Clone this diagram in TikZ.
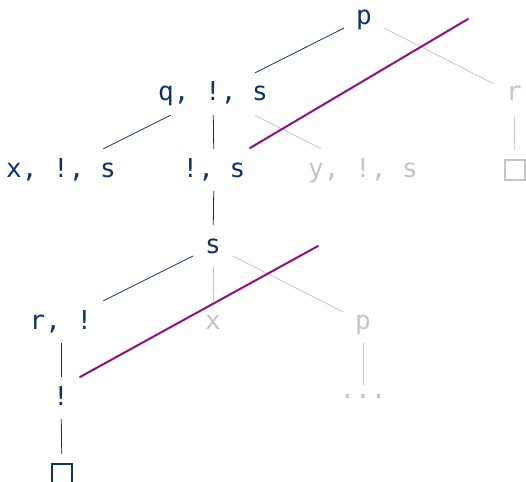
\documentclass[tikz,border=0pt]{standalone}
\usepackage{fontspec}
\newfontfamily\treefont{DejaVu Sans Mono}
\definecolor{navy}{RGB}{12,52,102}
\definecolor{fade}{RGB}{196,196,196}
\definecolor{cutc}{RGB}{150,12,130}
\begin{document}
\begin{tikzpicture}[x=1pt, y=-1pt,
    goal/.style={inner xsep=12pt, inner ysep=0pt, minimum height=42pt,
                 text height=17pt, text depth=3pt,
                 font=\fontsize{26}{30}\treefont, text=navy},
    dead/.style={goal, text=fade},
    leaf/.style={draw=navy, line width=1.5pt, minimum size=20pt,
                 inner sep=0pt, outer sep=10pt},
    deadleaf/.style={leaf, draw=fade},
    arc/.style={navy, line width=0.8pt},
    gone/.style={fade, line width=0.8pt},
    cut/.style={cutc, line width=2pt, line cap=round}
]
\useasboundingbox (0,0) rectangle (526,481);
\node[goal] (p) at (364, 18) {p};
\node[goal] (qns) at (213, 94) {q, !, s};
\node[dead] (r) at (514, 94) {r};
\node[goal] (xns) at (61, 170) {x, !, s};
\node[goal] (ns) at (214, 170) {!, s};
\node[dead] (yns) at (363, 170) {y, !, s};
\node[deadleaf] (e1) at (515, 170) {};
\node[goal] (s) at (213, 246) {s};
\node[goal] (rn) at (61, 322) {r, !};
\node[dead] (x) at (213, 322) {x};
\node[dead] (p2) at (363, 322) {p};
\node[goal] (n) at (61, 398) {!};
\node[dead, minimum height=26pt] (more) at (363, 398) {···};
\node[leaf] (e2) at (62, 474) {};

\coordinate (c1a) at (250, 148);
\coordinate (c1b) at (468, 19);
\coordinate (c2a) at (80, 377);
\coordinate (c2b) at (318, 246);

\draw[arc] (p) -- (qns);
\draw[gone] (p) -- (r);
\draw[gone] (r) -- (e1);
\draw[arc] (qns) -- (xns);
\draw[arc] (qns) -- (ns);
\draw[gone] (qns) -- (yns);
\draw[arc] (ns) -- (s);
\draw[arc] (s) -- (rn);
\draw[gone] (s) -- (x);
\draw[gone] (s) -- (p2);
\draw[gone] (p2) -- (more);
\draw[arc] (rn) -- (n);
\draw[arc] (n) -- (e2);

\draw[cut] (c1a) -- (c1b);
\draw[cut] (c2a) -- (c2b);
\end{tikzpicture}
\end{document}
